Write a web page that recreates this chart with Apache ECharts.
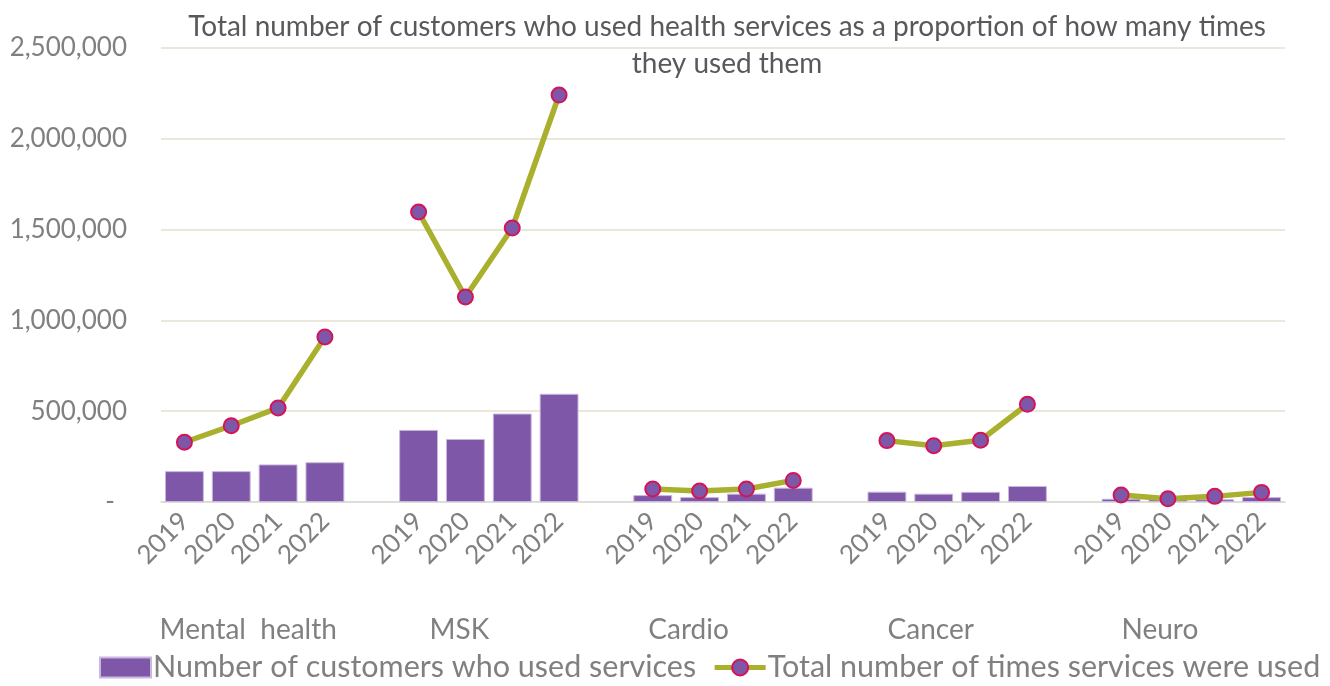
<!DOCTYPE html>
<html>
<head>
<meta charset="utf-8">
<script src="https://cdn.jsdelivr.net/npm/echarts@6/dist/echarts.min.js"></script>
<style>
  html, body { margin: 0; padding: 0; background: #fff; }
  #chart { width: 1330px; height: 686px; }
</style>
</head>
<body>
<div id="chart"></div>
<script>
const years = ['2019', '2020', '2021', '2022']
const groups = ['Mental  health', 'MSK', 'Cardio', 'Cancer', 'Neuro']
// customers per group, one value per year
const customers = [
  [170000, 170000, 207000, 219000],
  [397000, 347000, 487000, 596000],
  [38000, 27000, 46000, 79000],
  [57000, 46000, 56000, 88000],
  [18000, 15000, 15000, 27000],
]
// total uses per group, one value per year
const uses = [
  [329000, 420000, 518000, 909000],
  [1597000, 1129000, 1509000, 2241000],
  [72000, 61000, 72000, 119000],
  [338000, 310000, 340000, 538000],
  [38000, 18000, 31000, 53000],
]
const yTicks = [0, 500000, 1000000, 1500000, 2000000, 2500000]

const FONT = 'Lato'
const PURPLE = '#7E57A8'
const OLIVE = '#A8B02D'
const CRIMSON = '#D4145A'
const GREY = '#808080'

// nudge for group names so they sit where the original puts them
const groupPad = [[0, 0, 0, 34], [0, 12, 0, 0], [0, 22, 0, 0], [0, 6, 0, 0], [0, 16, 0, 0]]

// flatten groups into one category axis with a blank slot between groups
const yearCats = []
const groupCats = []
const barData = []
const lineData = []
groups.forEach((g, gi) => {
  if (gi > 0) {
    yearCats.push('')
    groupCats.push('')
    barData.push('-')
    lineData.push('-')
  }
  years.forEach((y, yi) => {
    yearCats.push(y)
    groupCats.push(yi === 1 ? { value: g, textStyle: { padding: groupPad[gi] } } : '')
    barData.push(customers[gi][yi])
    lineData.push(uses[gi][yi])
  })
})

const chart = echarts.init(document.getElementById('chart'), null, { renderer: 'canvas' })

chart.setOption({
  animation: false,
  textStyle: { fontFamily: FONT },
  title: {
    text: 'Total number of customers who used health services as a proportion of how many times\nthey used them',
    left: 722,
    top: 3,
    textAlign: 'center',
    textStyle: {
      fontFamily: FONT,
      fontSize: 28,
      fontWeight: 'normal',
      color: '#595959',
      lineHeight: 37,
    },
  },
  grid: {
    left: 161,
    right: 45,
    top: 48,
    bottom: 184,
  },
  legend: {
    left: 99,
    top: 652,
    padding: 0,
    itemWidth: 51,
    itemHeight: 20,
    itemGap: 16,
    textStyle: { fontFamily: FONT, fontSize: 30.5, color: GREY, padding: [0, 0, 0, -3] },
    data: [
      { name: 'Number of customers who used services', icon: 'rect' },
      {
        name: 'Total number of times services were used',
        lineStyle: { width: 5 },
      },
    ],
  },
  xAxis: [
    {
      type: 'category',
      data: yearCats,
      axisLine: { lineStyle: { color: '#D9D9D9', width: 1.5 } },
      axisTick: { show: false },
      axisLabel: {
        interval: 0,
        rotate: 45,
        margin: 15,
        fontFamily: FONT,
        fontSize: 26,
        color: GREY,
      },
    },
    {
      type: 'category',
      position: 'bottom',
      offset: 114,
      data: groupCats,
      axisLine: { show: false },
      axisTick: { show: false },
      axisLabel: {
        interval: 0,
        margin: 0,
        fontFamily: FONT,
        fontSize: 28,
        color: GREY,
      },
    },
  ],
  yAxis: {
    type: 'value',
    min: yTicks[0],
    max: yTicks[yTicks.length - 1],
    interval: 500000,
    axisLine: { show: false },
    axisTick: { show: false },
    splitLine: { lineStyle: { color: '#E3E0CF', width: 1.5 } },
    axisLabel: {
      margin: 34,
      fontFamily: FONT,
      fontSize: 26,
      color: GREY,
      formatter: (v) => (v === 0 ? '{z|-}' : v.toLocaleString('en-US')),
      rich: { z: { fontFamily: FONT, fontSize: 26, color: GREY, padding: [0, 12, 0, 0] } },
    },
  },
  series: [
    {
      name: 'Number of customers who used services',
      type: 'bar',
      xAxisIndex: 0,
      barCategoryGap: '17%',
      itemStyle: { color: PURPLE, borderColor: '#C9B8DD', borderWidth: 1 },
      data: barData,
    },
    {
      name: 'Total number of times services were used',
      type: 'line',
      xAxisIndex: 0,
      connectNulls: false,
      symbol: 'circle',
      symbolSize: 15,
      lineStyle: { color: OLIVE, width: 5.5 },
      itemStyle: { color: PURPLE, borderColor: CRIMSON, borderWidth: 2 },
      data: lineData,
    },
  ],
})
</script>
</body>
</html>
